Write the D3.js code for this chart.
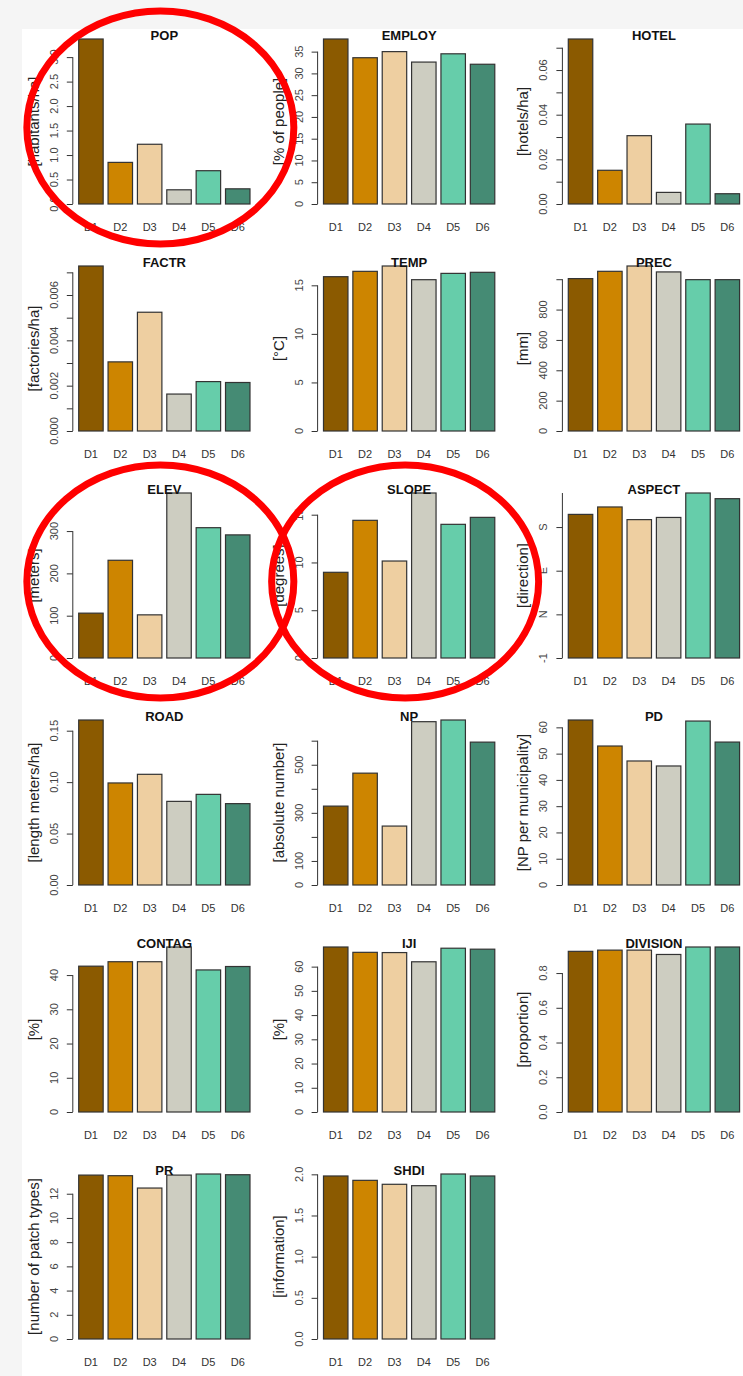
<!DOCTYPE html>
<html>
<head>
<meta charset="utf-8">
<script src="https://cdn.jsdelivr.net/npm/d3@7"></script>
<style>
  body { margin: 0; background: #f5f5f5; }
  svg { display: block; }
  text { font-family: Arial, "Liberation Sans", sans-serif; }
</style>
</head>
<body>
<div id="chart"></div>
<script>
"use strict";
// districts and their bar colours
const districts = ["D1", "D2", "D3", "D4", "D5", "D6"];
const districtColors = ["#8b5a00", "#cd8500", "#eecfa1", "#cdcdc1", "#66cdaa", "#458b74"];

// panel titles and y axis labels, in plotting order
const titles = ["POP", "EMPLOY", "HOTEL", "FACTR", "TEMP", "PREC", "ELEV", "SLOPE", "ASPECT",
  "ROAD", "NP", "PD", "CONTAG", "IJI", "DIVISION", "PR", "SHDI"];
const yLabels = ["[habitants/ha]", "[% of people]", "[hotels/ha]", "[factories/ha]", "[°C]", "[mm]",
  "[meters]", "[degrees]", "[direction]", "[length meters/ha]", "[absolute number]",
  "[NP per municipality]", "[%]", "[%]", "[proportion]", "[number of patch types]", "[information]"];

// values per panel (D1..D6)
const popValues = [3.37, 0.85, 1.22, 0.29, 0.68, 0.31];
const employValues = [37.9, 33.6, 35.0, 32.6, 34.5, 32.1];
const hotelValues = [0.0739, 0.0151, 0.0306, 0.0052, 0.0358, 0.0046];
const factrValues = [0.00728, 0.00305, 0.00524, 0.00163, 0.00218, 0.00214];
const tempValues = [15.89, 16.44, 16.99, 15.58, 16.23, 16.34];
const precValues = [1004, 1052, 1087, 1048, 997, 997];
const elevValues = [106, 231, 102, 390, 308, 291];
const slopeValues = [8.97, 14.41, 10.15, 17.27, 13.99, 14.72];
const aspectValues = [3.29, 3.46, 3.17, 3.22, 3.78, 3.65];
const roadValues = [0.1604, 0.0992, 0.1076, 0.0813, 0.0881, 0.0791];
const npValues = [328, 465, 245, 679, 686, 594];
const pdValues = [62.8, 52.9, 47.2, 45.3, 62.4, 54.4];
const contagValues = [42.6, 43.9, 43.9, 48.2, 41.5, 42.5];
const ijiValues = [68.1, 65.9, 65.8, 62.0, 67.6, 67.2];
const divisionValues = [0.925, 0.932, 0.932, 0.907, 0.950, 0.950];
const prValues = [13.54, 13.49, 12.47, 13.54, 13.63, 13.57];
const shdiValues = [1.980, 1.927, 1.879, 1.862, 2.004, 1.980];

// y ticks and their labels ("" = tick without label)
const popTicks = [0, 0.5, 1, 1.5, 2, 2.5, 3];
const popTickLabels = ["0.0", "0.5", "1.0", "1.5", "2.0", "2.5", "3.0"];
const employTicks = [0, 5, 10, 15, 20, 25, 30, 35];
const employTickLabels = ["0", "5", "10", "15", "20", "25", "30", "35"];
const hotelTicks = [0, 0.01, 0.02, 0.03, 0.04, 0.05, 0.06, 0.07];
const hotelTickLabels = ["0.00", "", "0.02", "", "0.04", "", "0.06", ""];
const factrTicks = [0, 0.001, 0.002, 0.003, 0.004, 0.005, 0.006, 0.007];
const factrTickLabels = ["0.000", "", "0.002", "", "0.004", "", "0.006", ""];
const tempTicks = [0, 5, 10, 15];
const tempTickLabels = ["0", "5", "10", "15"];
const precTicks = [0, 200, 400, 600, 800, 1000];
const precTickLabels = ["0", "200", "400", "600", "800", ""];
const elevTicks = [0, 100, 200, 300];
const elevTickLabels = ["0", "100", "200", "300"];
const slopeTicks = [0, 5, 10, 15];
const slopeTickLabels = ["0", "5", "10", "15"];
const aspectTicks = [0, 1, 2, 3];
const aspectTickLabels = ["-1", "N", "E", "S"];
const roadTicks = [0, 0.05, 0.10, 0.15];
const roadTickLabels = ["0.00", "0.05", "0.10", "0.15"];
const npTicks = [0, 100, 200, 300, 400, 500, 600];
const npTickLabels = ["0", "100", "", "300", "", "500", ""];
const pdTicks = [0, 10, 20, 30, 40, 50, 60];
const pdTickLabels = ["0", "10", "20", "30", "40", "50", "60"];
const contagTicks = [0, 10, 20, 30, 40];
const contagTickLabels = ["0", "10", "20", "30", "40"];
const ijiTicks = [0, 10, 20, 30, 40, 50, 60];
const ijiTickLabels = ["0", "10", "20", "30", "40", "50", "60"];
const divisionTicks = [0, 0.2, 0.4, 0.6, 0.8];
const divisionTickLabels = ["0.0", "0.2", "0.4", "0.6", "0.8"];
const prTicks = [0, 2, 4, 6, 8, 10, 12];
const prTickLabels = ["0", "2", "4", "6", "8", "10", "12"];
const shdiTicks = [0, 0.5, 1, 1.5, 2];
const shdiTickLabels = ["0.0", "0.5", "1.0", "1.5", "2.0"];

// panels circled in red
const highlighted = ["POP", "ELEV", "SLOPE"];

const allValues = [popValues, employValues, hotelValues, factrValues, tempValues, precValues,
  elevValues, slopeValues, aspectValues, roadValues, npValues, pdValues, contagValues,
  ijiValues, divisionValues, prValues, shdiValues];
const allTicks = [popTicks, employTicks, hotelTicks, factrTicks, tempTicks, precTicks,
  elevTicks, slopeTicks, aspectTicks, roadTicks, npTicks, pdTicks, contagTicks,
  ijiTicks, divisionTicks, prTicks, shdiTicks];
const allTickLabels = [popTickLabels, employTickLabels, hotelTickLabels, factrTickLabels,
  tempTickLabels, precTickLabels, elevTickLabels, slopeTickLabels, aspectTickLabels,
  roadTickLabels, npTickLabels, pdTickLabels, contagTickLabels, ijiTickLabels,
  divisionTickLabels, prTickLabels, shdiTickLabels];

const panels = titles.map((t, i) => ({
  title: t, ylab: yLabels[i], values: allValues[i], ticks: allTicks[i], tickLabels: allTickLabels[i]
}));

const width = 743, height = 1376;
const colStep = 244.8, rowStep = 227;
const firstX = 73.8, firstBase = 204;
const plotH = 165;
const unit = 24.47; // width of one bar

const svg = d3.select("#chart").append("svg")
  .attr("width", width).attr("height", height);

svg.append("rect").attr("width", width).attr("height", height).attr("fill", "#f5f5f5");
svg.append("rect").attr("x", 22).attr("y", 29).attr("width", width - 22).attr("height", height - 29)
  .attr("fill", "#ffffff");

const color = d3.scaleOrdinal().domain(districts).range(districtColors);
const ellipses = [];

panels.forEach((p, i) => {
  const col = i % 3, row = Math.floor(i / 3);
  const x0 = firstX + col * colStep;
  const base = firstBase + row * rowStep;
  const top = base - plotH;

  const x = d3.scaleBand().domain(districts)
    .range([x0, x0 + 7.4 * unit])
    .paddingInner(0.2 / 1.2).paddingOuter(0.2 / 1.2);
  const y = d3.scaleLinear().domain([0, d3.max(p.values)]).range([base, top]);

  const g = svg.append("g");

  // bars
  g.selectAll("rect.bar").data(p.values).join("rect")
    .attr("class", "bar")
    .attr("x", (d, j) => x(districts[j]))
    .attr("width", x.bandwidth())
    .attr("y", d => y(d))
    .attr("height", d => base - y(d))
    .attr("fill", (d, j) => color(districts[j]))
    .attr("stroke", "#333")
    .attr("stroke-width", 1.2);

  // y axis (R style: line spans the ticks, labels rotated)
  const axisX = x0 - 1;
  const yAxis = d3.axisLeft(y).tickValues(p.ticks).tickSize(6).tickFormat("");
  const ax = g.append("g").attr("transform", `translate(${axisX},0)`).call(yAxis);
  ax.select(".domain").remove();
  ax.selectAll(".tick line").attr("stroke", "#333");
  const lineTop = p.title === "ASPECT" ? top : y(d3.max(p.ticks));
  ax.append("line").attr("x1", 0).attr("x2", 0)
    .attr("y1", y(0)).attr("y2", lineTop).attr("stroke", "#333");

  g.selectAll("text.ytick").data(p.ticks).join("text")
    .attr("class", "ytick")
    .attr("transform", d => `translate(${axisX - 15},${y(d)}) rotate(-90)`)
    .attr("text-anchor", "middle")
    .attr("font-size", 11)
    .attr("fill", "#444")
    .text((d, j) => p.tickLabels[j]);

  // x labels
  g.selectAll("text.xlab").data(districts).join("text")
    .attr("class", "xlab")
    .attr("x", d => x(d) + x.bandwidth() / 2)
    .attr("y", base + 26.7)
    .attr("text-anchor", "middle")
    .attr("font-size", 11)
    .attr("fill", "#333")
    .text(d => d);

  // title
  const cx = x0 + 3.7 * unit;
  g.append("text")
    .attr("x", cx).attr("y", top + 1)
    .attr("text-anchor", "middle")
    .attr("font-size", 13).attr("font-weight", "bold")
    .attr("fill", "#111")
    .text(p.title);

  // y axis title
  g.append("text")
    .attr("transform", `translate(${axisX - 34},${(top + base) / 2}) rotate(-90)`)
    .attr("text-anchor", "middle")
    .attr("font-size", 15)
    .attr("fill", "#222")
    .text(p.ylab);

  if (highlighted.includes(p.title)) ellipses.push({ cx: cx - 4, cy: (top + base) / 2 + 6 });
});

// red circles drawn over the highlighted panels
svg.selectAll("ellipse.mark").data(ellipses).join("ellipse")
  .attr("class", "mark")
  .attr("cx", d => d.cx).attr("cy", d => d.cy)
  .attr("rx", 133.5).attr("ry", 116.5)
  .attr("fill", "none")
  .attr("stroke", "#ff0000")
  .attr("stroke-width", 7);
</script>
</body>
</html>
